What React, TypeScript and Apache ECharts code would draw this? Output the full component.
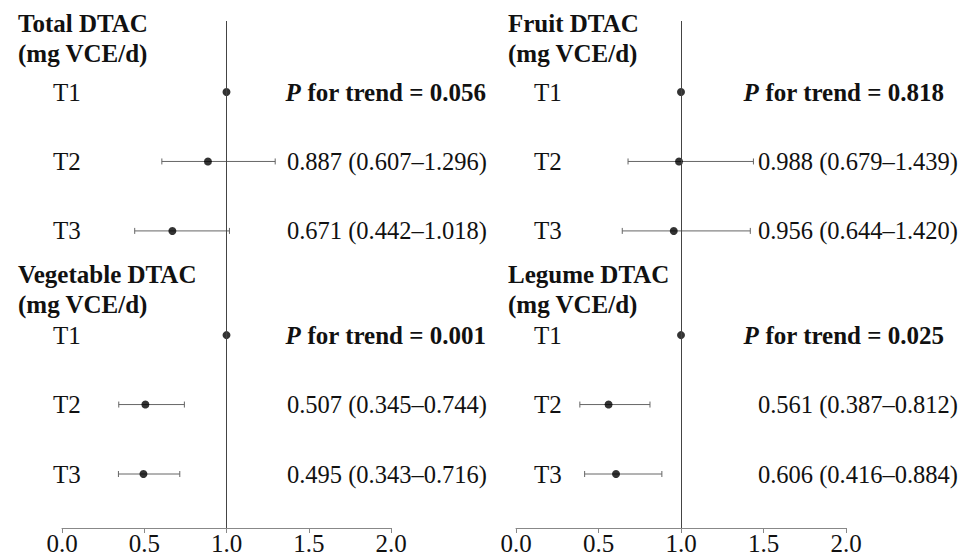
import React, { useEffect, useRef } from "react";
import * as echarts from "echarts";

const FONT = "Liberation Serif, DejaVu Serif, serif";

const tertiles = ["T1", "T2", "T3"];
const panelTitles = ["Total DTAC", "Fruit DTAC", "Vegetable DTAC", "Legume DTAC"];
const unitLabel = "(mg VCE/d)";

const totalOR = [1, 0.887, 0.671];
const totalLow = [null, 0.607, 0.442];
const totalHigh = [null, 1.296, 1.018];

const fruitOR = [1, 0.988, 0.956];
const fruitLow = [null, 0.679, 0.644];
const fruitHigh = [null, 1.439, 1.42];

const vegetableOR = [1, 0.507, 0.495];
const vegetableLow = [null, 0.345, 0.343];
const vegetableHigh = [null, 0.744, 0.716];

const legumeOR = [1, 0.561, 0.606];
const legumeLow = [null, 0.387, 0.416];
const legumeHigh = [null, 0.812, 0.884];

const pTrend = ["0.056", "0.818", "0.001", "0.025"];

const xTicks = [0, 0.5, 1, 1.5, 2];

const panels = [
  { title: panelTitles[0], or: totalOR, lo: totalLow, hi: totalHigh, p: pTrend[0] },
  { title: panelTitles[1], or: fruitOR, lo: fruitLow, hi: fruitHigh, p: pTrend[1] },
  { title: panelTitles[2], or: vegetableOR, lo: vegetableLow, hi: vegetableHigh, p: pTrend[2] },
  { title: panelTitles[3], or: legumeOR, lo: legumeLow, hi: legumeHigh, p: pTrend[3] },
];

const columns = [
  { left: 62, width: 329, labelX: 53, resultRight: 487, pRight: 486, titleX: 18, panels: [0, 2] },
  { left: 516, width: 330, labelX: 534, resultRight: 958, pRight: 944, titleX: 508, panels: [1, 3] },
];

const GRID_TOP = 21;
const AXIS_Y = 528;
const H = 558;
const FS = 24.5;

export default function App() {
  const ref = useRef<HTMLDivElement>(null);
  useEffect(() => {
    document.body.style.margin = "0";
    const chart = echarts.init(ref.current!, null, { renderer: "svg" });

    const grids: any[] = [];
    const xAxes: any[] = [];
    const yAxes: any[] = [];
    const series: any[] = [];
    const graphics: any[] = [];

    columns.forEach((col, ci) => {
      grids.push({ left: col.left, width: col.width, top: GRID_TOP, bottom: H - AXIS_Y });
      xAxes.push({
        type: "value",
        gridIndex: ci,
        position: "bottom",
        min: xTicks[0],
        max: xTicks[xTicks.length - 1],
        interval: 0.5,
        axisLine: { show: true, onZero: false, lineStyle: { color: "#888", width: 1 } },
        axisTick: { show: true, length: 5, lineStyle: { color: "#888" } },
        splitLine: { show: false },
        axisLabel: {
          margin: 3,
          fontSize: 25,
          fontFamily: FONT,
          color: "#111",
          formatter: (v: number) => v.toFixed(1),
        },
      });
      yAxes.push({
        type: "value",
        gridIndex: ci,
        inverse: true,
        min: -2.045,
        max: 12.555,
        show: false,
        splitLine: { show: false },
      });

      type Item = { or: number; slot: number; lo: number | null; hi: number | null; label: string; text: string; isP: boolean };
      const items: Item[] = [];
      col.panels.forEach((pi, row) => {
        const pn = panels[pi];
        tertiles.forEach((t, i) => {
          const lo = pn.lo[i];
          const hi = pn.hi[i];
          items.push({
            or: pn.or[i],
            slot: row * 7 + i * 2,
            lo,
            hi,
            label: t,
            text:
              i === 0
                ? `{i|P}{b| for trend = ${pn.p}}`
                : `${pn.or[i].toFixed(3)} (${(lo as number).toFixed(3)}–${(hi as number).toFixed(3)})`,
            isP: i === 0,
          });
        });
        const titleY = row === 0 ? 25 : 276;
        graphics.push({
          type: "text",
          left: col.titleX,
          top: titleY - 14,
          style: { text: pn.title, font: `bold 25px ${FONT}`, fill: "#111" },
        });
        graphics.push({
          type: "text",
          left: col.titleX,
          top: titleY + 16,
          style: { text: unitLabel, font: `bold 25px ${FONT}`, fill: "#111" },
        });
      });

      series.push({
        type: "custom",
        xAxisIndex: ci,
        yAxisIndex: ci,
        z: 2,
        silent: true,
        data: items.map((d) => [d.or, d.slot]),
        renderItem: (params: any, api: any) => {
          const d = items[params.dataIndex];
          const y = api.coord([d.or, d.slot])[1];
          const children: any[] = [];
          if (d.lo != null && d.hi != null) {
            const a = api.coord([d.lo, d.slot])[0];
            const b = api.coord([d.hi, d.slot])[0];
            const st = { stroke: "#666", lineWidth: 1 };
            children.push({ type: "line", shape: { x1: a, y1: y, x2: b, y2: y }, style: st });
            children.push({ type: "line", shape: { x1: a, y1: y - 3, x2: a, y2: y + 3 }, style: st });
            children.push({ type: "line", shape: { x1: b, y1: y - 3, x2: b, y2: y + 3 }, style: st });
          }
          children.push({
            type: "text",
            style: {
              text: d.label,
              x: col.labelX,
              y,
              font: `25px ${FONT}`,
              fill: "#111",
              align: "left",
              verticalAlign: "middle",
            },
          });
          if (d.isP) {
            children.push({
              type: "text",
              style: {
                text: d.text,
                x: col.pRight,
                y,
                align: "right",
                verticalAlign: "middle",
                fill: "#111",
                rich: {
                  i: { fontStyle: "italic", fontWeight: "bold", fontSize: 25, fontFamily: FONT, fill: "#111" },
                  b: { fontWeight: "bold", fontSize: 25, fontFamily: FONT, fill: "#111" },
                },
              },
            });
          } else {
            children.push({
              type: "text",
              style: {
                text: d.text,
                x: col.resultRight,
                y,
                font: `${FS}px ${FONT}`,
                fill: "#111",
                align: "right",
                verticalAlign: "middle",
              },
            });
          }
          return { type: "group", children };
        },
      });

      series.push({
        type: "scatter",
        xAxisIndex: ci,
        yAxisIndex: ci,
        z: 3,
        silent: true,
        symbol: "circle",
        symbolSize: 8,
        itemStyle: { color: "#000" },
        data: items.map((d) => [d.or, d.slot]),
        markLine: {
          silent: true,
          symbol: ["none", "none"],
          label: { show: false },
          lineStyle: { color: "#444", width: 1, type: "solid" },
          data: [{ xAxis: 1 }],
        },
      });
    });

    chart.setOption({
      animation: false,
      backgroundColor: "#fff",
      grid: grids,
      xAxis: xAxes,
      yAxis: yAxes,
      series,
      graphic: graphics,
    });
    return () => chart.dispose();
  }, []);
  return <div ref={ref} style={{ width: 965, height: 558 }} />;
}
